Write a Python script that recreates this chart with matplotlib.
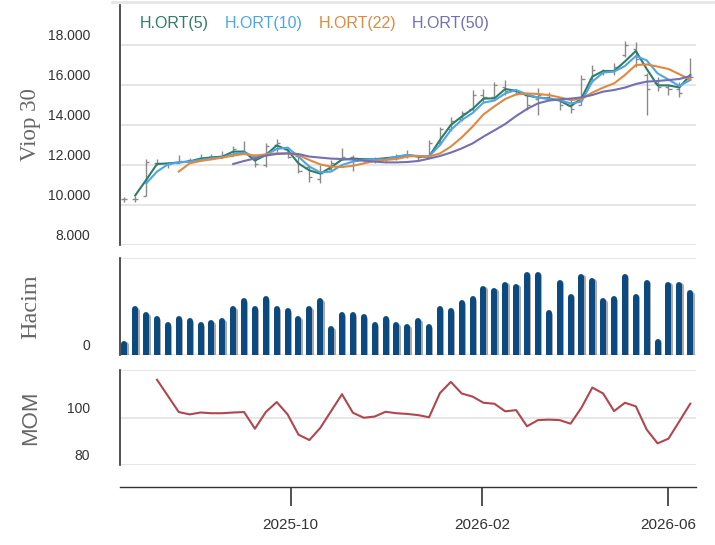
import numpy as np
import pandas as pd
import matplotlib
matplotlib.use("Agg")
import matplotlib.pyplot as plt
import matplotlib.patheffects as pe
from matplotlib.lines import Line2D
from matplotlib.transforms import ScaledTranslation
from matplotlib.ticker import FuncFormatter

# weekly bars
dates = pd.date_range("2025-06-16", periods=53, freq="7D")

opens = [10280, 10280, 10450, 12100, 12100, 12100, 12250, 12250, 12380, 12420,
         12450, 12700, 12400, 12000, 13000, 12800, 12450, 11900, 11300, 11800,
         12300, 12400, 12300, 12250, 12300, 12350, 12450, 12450, 12400, 13100,
         13800, 14300, 14800, 15500, 15400, 15900, 15700, 15500, 15300, 15400,
         15300, 15000, 15000, 16300, 16600, 16700, 17500, 17800, 16500, 16100,
         15900, 15800, 16300]
highs = [10380, 10450, 12280, 12280, 12150, 12500, 12350, 12530, 12530, 12720,
         12950, 13200, 12530, 13100, 13280, 12880, 12500, 12000, 12000, 12250,
         12830, 12500, 12350, 12420, 12420, 12550, 12750, 12500, 13250, 13900,
         14400, 14700, 15750, 15800, 16150, 16250, 15800, 15500, 15830, 15650,
         15420, 15250, 16500, 17000, 16800, 17080, 18200, 18150, 16600, 16380,
         16000, 16170, 17330]
lows = [10170, 10150, 10450, 12000, 11850, 12100, 12100, 12280, 12330, 12330,
        12450, 12580, 11920, 11920, 12580, 12330, 11600, 11170, 11080, 11700,
        12250, 11700, 12080, 12080, 12170, 12250, 12330, 12250, 12330, 13000,
        13700, 14200, 14700, 15100, 15330, 15500, 15500, 14750, 14500, 15250,
        14750, 14580, 15000, 16170, 16500, 16500, 17400, 16900, 14500, 15720,
        15500, 15420, 16250]
closes = [10280, 10300, 12150, 12100, 12050, 12200, 12200, 12350, 12400, 12450,
          12800, 12650, 12050, 12950, 13100, 12400, 11700, 11400, 11600, 12100,
          12400, 12300, 12250, 12300, 12350, 12450, 12500, 12400, 13100, 13800,
          14200, 14600, 15500, 15400, 16000, 15700, 15600, 15000, 15500, 15350,
          15000, 14800, 16300, 16750, 16700, 16900, 18000, 17300, 15800, 15900,
          15800, 15600, 16400]

ma5 = [None, 10480, 11250, 12050, 12080, 12130, 12180, 12320, 12380, 12420,
       12670, 12670, 12220, 12500, 12980, 12750, 12080, 11730, 11570, 11890,
       12270, 12320, 12290, 12290, 12340, 12400, 12500, 12420, 12420, 13250,
       14000, 14420, 14800, 15320, 15330, 15800, 15710, 15480, 15370, 15330,
       15220, 14930, 15330, 16420, 16700, 16700, 17180, 17700, 16800, 15980,
       15980, 15880, 16500]
ma10 = [None, None, 11080, 11670, 12030, 12130, 12170, 12250, 12330, 12380,
        12530, 12620, 12420, 12500, 12800, 12870, 12420, 11920, 11630, 11670,
        12000, 12170, 12250, 12280, 12280, 12420, 12500, 12450, 12430, 13000,
        13750, 14250, 14600, 15120, 15220, 15580, 15750, 15530, 15370, 15300,
        15250, 15080, 15170, 16170, 16620, 16670, 16950, 17450, 17230, 16580,
        16270, 15950, 16250]
ma22 = [None, None, None, None, None, 11670, 12080, 12200, 12280, 12370,
        12470, 12550, 12470, 12530, 12580, 12580, 12500, 12250, 12030, 11920,
        11900, 11960, 12080, 12200, 12250, 12300, 12420, 12450, 12420, 12580,
        12920, 13380, 13920, 14530, 14930, 15300, 15530, 15580, 15550, 15500,
        15380, 15250, 15300, 15620, 15870, 16080, 16500, 17000, 17030, 16920,
        16800, 16540, 16270]
ma50 = [None] * 10 + [
        12050, 12200, 12330, 12470, 12550, 12580, 12550, 12420, 12370, 12320,
        12300, 12270, 12220, 12170, 12130, 12130, 12150, 12200, 12320, 12450,
        12620, 12830, 13080, 13420, 13730, 14050, 14450, 14800, 15080, 15220,
        15280, 15320, 15380, 15500, 15670, 15750, 15870, 16050, 16170, 16200,
        16250, 16300, 16450]

volume = [11.5, 47.2, 40.9, 36.8, 30.5, 36.8, 34.7, 30.5, 32.6, 34.7,
          47.2, 55.5, 47.2, 57.6, 47.2, 45.1, 36.8, 47.2, 55.5, 26.4,
          40.9, 40.9, 38.9, 30.5, 36.8, 30.5, 28.5, 34.7, 28.5, 47.2,
          45.1, 53.4, 57.6, 68.0, 65.9, 72.2, 70.1, 82.6, 82.6, 43.0,
          74.3, 59.7, 80.5, 76.3, 55.5, 57.6, 80.5, 59.7, 74.3, 13.9,
          72.2, 72.2, 63.8]

mom = [None, None, None, 115.9, 109.1, 102.3, 101.3, 102.1, 101.8, 101.8,
       102.1, 102.3, 95.3, 102.3, 106.5, 101.3, 92.8, 90.5, 95.6, 102.7,
       109.8, 102.0, 99.9, 100.4, 102.4, 101.8, 101.5, 101.0, 100.1, 110.3,
       115.0, 110.1, 108.8, 106.2, 105.8, 102.6, 103.1, 96.3, 98.9, 99.1,
       98.9, 97.4, 104.1, 112.6, 110.1, 102.7, 106.2, 104.7, 94.9, 89.1,
       91.1, 98.4, 105.8]

price_ticks = [8000, 10000, 12000, 14000, 16000, 18000]
x_ticks = ["2025-10-01", "2026-02-01", "2026-06-01"]
x_labels = ["2025-10", "2026-02", "2026-06"]
ma_names = ["H.ORT(5)", "H.ORT(10)", "H.ORT(22)", "H.ORT(50)"]
ma_colors = ["#2e7d68", "#4ea6e6", "#e0893f", "#736fb4"]


def arr(v):
    return np.array([np.nan if a is None else a for a in v], dtype=float)


plt.rcParams["font.family"] = ["Liberation Sans", "DejaVu Sans"]

fig = plt.figure(figsize=(7.15, 5.45), dpi=100)
W, H = 715, 545
left, right = 120, 696


def box(top, bottom):
    return [left / W, 1 - bottom / H, (right - left) / W, (bottom - top) / H]


ax1 = fig.add_axes(box(5, 245))
ax2 = fig.add_axes(box(258, 355), sharex=ax1)
ax3 = fig.add_axes(box(370, 465), sharex=ax1)

grid_c = "#e6e6e6"
axis_c = "#333333"
label_off = ScaledTranslation(0, 0.10, fig.dpi_scale_trans)

# faint strip along the top edge
fig.add_artist(Line2D([112 / W, 713 / W], [1 - 1.5 / H, 1 - 1.5 / H],
                      color=grid_c, linewidth=2, transform=fig.transFigure))

for ax in (ax1, ax2, ax3):
    for s in ("top", "right", "bottom"):
        ax.spines[s].set_visible(False)
    ax.spines["left"].set_color(axis_c)
    ax.spines["left"].set_linewidth(1.2)
    ax.grid(axis="y", color=grid_c, linewidth=1.4)
    ax.set_axisbelow(True)
    ax.tick_params(axis="y", length=0, pad=21.5, labelsize=10, labelcolor="#333333")

# price panel
day = pd.Timedelta(days=1)
ax1.vlines(dates, lows, highs, color="#8a8a8a", linewidth=1)
ax1.hlines(opens, dates - 2 * day, dates, color="#8a8a8a", linewidth=1)
ax1.hlines(closes, dates, dates + 2 * day, color="#8a8a8a", linewidth=1)
for name, vals, c in zip(ma_names, [ma5, ma10, ma22, ma50], ma_colors):
    ax1.plot(dates, arr(vals), color=c, linewidth=1.5, label=name)
ax1.set_ylim(8000, 20000)
ax1.set_yticks(price_ticks)
ax1.yaxis.set_major_formatter(FuncFormatter(lambda v, p: f"{v:,.0f}".replace(",", ".")))
ax1.set_ylabel("Viop 30", family="Liberation Serif", fontsize=16.5, color="#666666")
leg = ax1.legend(loc="upper left", bbox_to_anchor=(0.015, 1.0), ncol=4, frameon=False,
                 handlelength=0, handletextpad=0, columnspacing=1.0,
                 labelcolor="linecolor", fontsize=11.5, borderaxespad=0.3)

# volume panel
ax2.vlines(dates, 0, volume, color="#0a4a80", linewidth=4.3, capstyle="round",
           path_effects=[pe.SimpleLineShadow(offset=(1, -1), shadow_color="#555555", alpha=0.5),
                         pe.Normal()])
ax2.set_ylim(0, 100)
ax2.set_yticks([0, 100])
ax2.set_yticklabels(["0", ""])
ax2.set_ylabel("Hacim", family="Liberation Serif", fontsize=17.5, color="#666666")

# momentum panel
ax3.plot(dates, arr(mom), color="#b04650", linewidth=1.5)
ax3.set_ylim(80, 120)
ax3.set_yticks([80, 100, 120])
ax3.set_yticklabels(["80", "100", ""])
ax3.set_ylabel("MOM", fontsize=16, color="#666666")

for ax in (ax1, ax2, ax3):
    ax.yaxis.set_label_coords(-0.137, 0.5)
    for lab in ax.get_yticklabels():
        lab.set_transform(lab.get_transform() + label_off)

ax1.set_xlim(dates[0] - 2.8 * day, dates[-1] + 3.7 * day)
ax3.spines["bottom"].set_visible(True)
ax3.spines["bottom"].set_position(("outward", 15.8))
ax3.spines["bottom"].set_color(axis_c)
ax3.spines["bottom"].set_linewidth(1.0)
ax3.set_xticks(pd.to_datetime(x_ticks))
ax3.set_xticklabels(x_labels)
ax3.tick_params(axis="x", length=13.7, width=1.2, color=axis_c, pad=9, labelsize=11,
                labelcolor="#333333")
ax1.tick_params(axis="x", bottom=False, labelbottom=False)
ax2.tick_params(axis="x", bottom=False, labelbottom=False)

fig.savefig("out.png", dpi=100)
